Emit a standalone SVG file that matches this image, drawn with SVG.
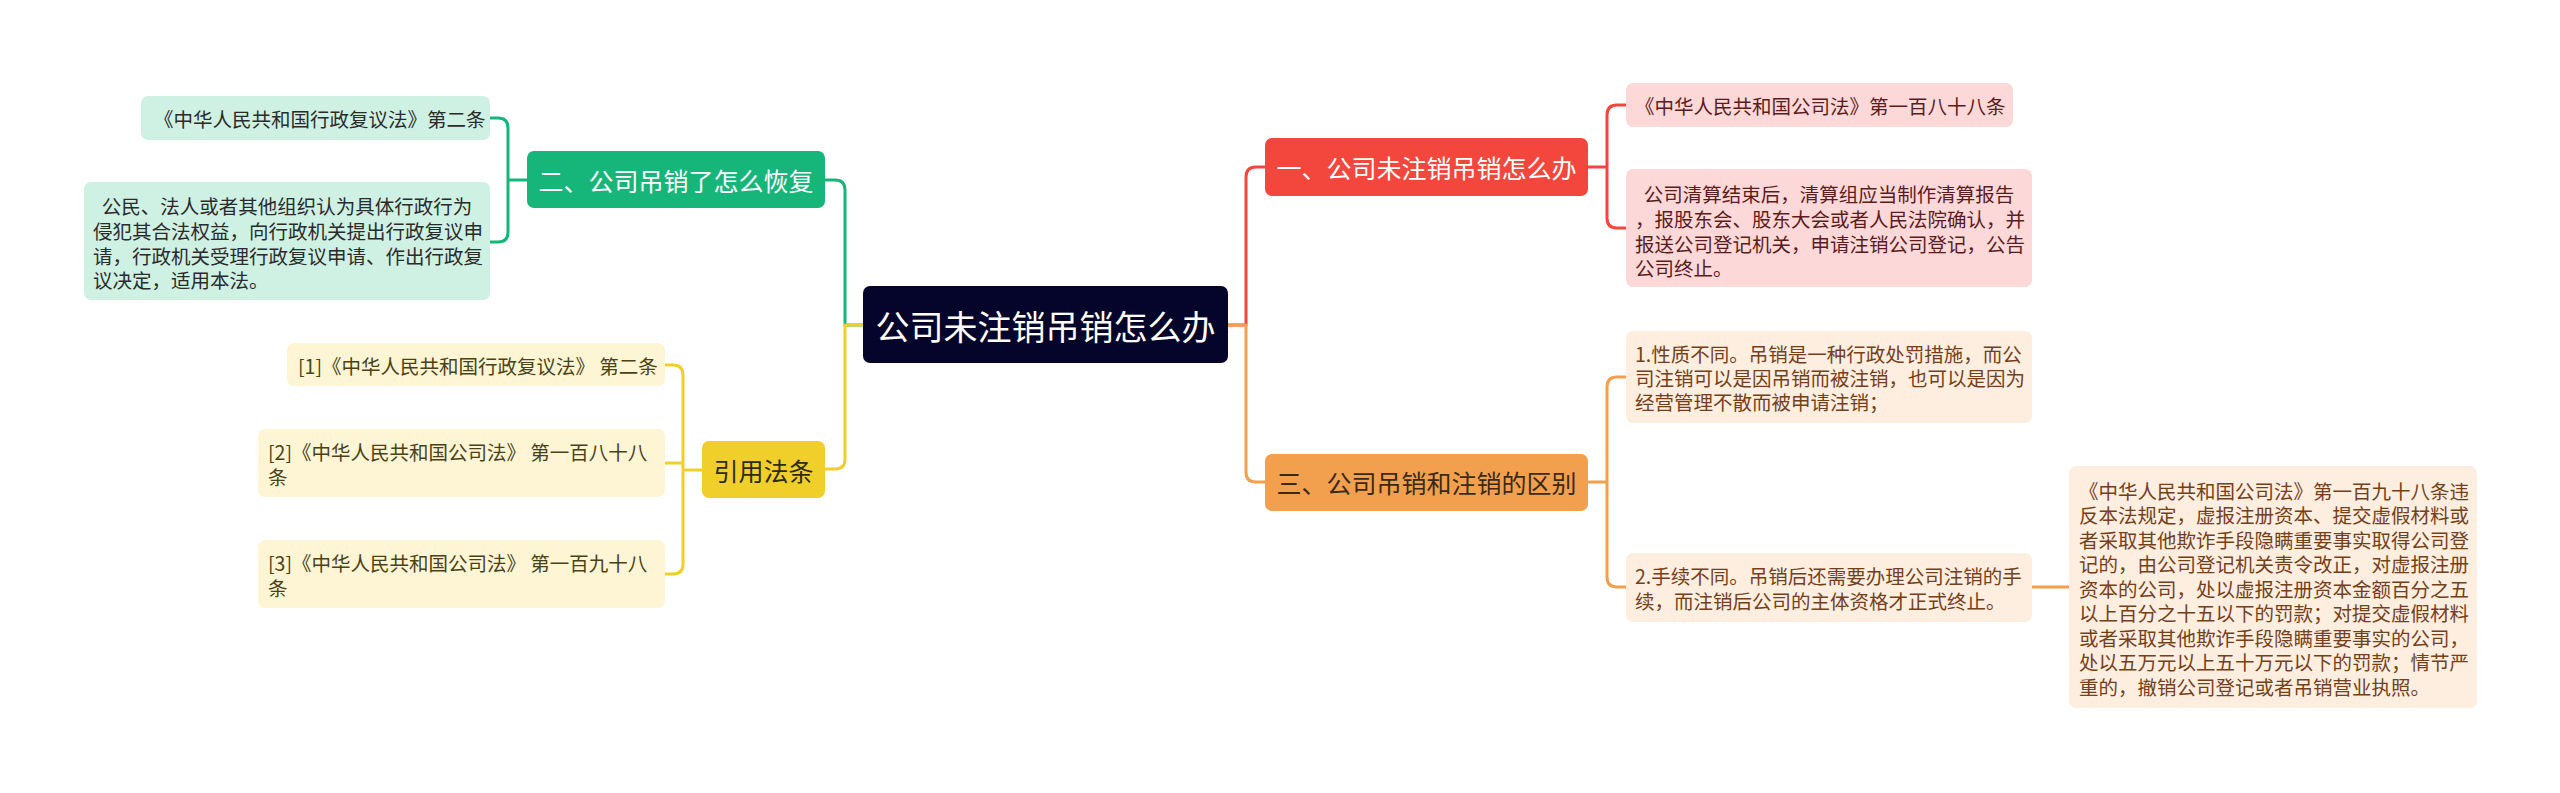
<svg xmlns="http://www.w3.org/2000/svg" width="2560" height="793" viewBox="0 0 2560 793">
<style>
text{font-family:"Noto Sans CJK SC","Noto Sans",sans-serif;dominant-baseline:central}
.leaf{font-size:19.5px}
.main{font-size:25px}
.c{fill:none;stroke-width:3;stroke-linecap:round;stroke-linejoin:round}
.g{stroke:#16b67b}.y{stroke:#f0cf2a}.r{stroke:#f3463d}.o{stroke:#f3a04e}
</style>
<rect width="2560" height="793" fill="#ffffff"/>
<g id="connectors">
<path class="c g" d="M863,325 H845 V190 Q845,180 835,180 H825"/>
<path class="c y" d="M863,325 H845 V459 Q845,469 835,469 H825"/>
<path class="c r" d="M1228,325 H1246 V177 Q1246,167 1256,167 H1265"/>
<path class="c o" d="M1228,325 H1246 V472 Q1246,482 1256,482 H1265"/>
<path class="c g" d="M527,180 H508 M508,180 V128 Q508,118 498,118 H490 M508,180 V232 Q508,242 498,242 H490"/>
<path class="c y" d="M702,470 H683 M683,470 V375 Q683,365 673,365 H665 M683,470 V463 H665 M683,470 V564 Q683,574 673,574 H665"/>
<path class="c r" d="M1588,167 H1607 M1607,167 V115 Q1607,105 1617,105 H1626 M1607,167 V218 Q1607,228 1617,228 H1626"/>
<path class="c o" d="M1588,482 H1607 M1607,482 V387 Q1607,377 1617,377 H1626 M1607,482 V577 Q1607,587 1617,587 H1626 M2032,587 H2069"/>
</g>
<g id="central">
<rect x="863" y="286" width="365" height="77" rx="7" fill="#05052b"/>
<text x="1045.5" y="325" font-size="34" fill="#ffffff" text-anchor="middle">公司未注销吊销怎么办</text>
</g>
<g id="branch-green">
<rect x="527" y="151" width="298" height="57" rx="7" fill="#16b67b"/>
<text class="main" x="676" y="180" fill="#ffffff" text-anchor="middle">二、公司吊销了怎么恢复</text>
</g>
<g id="leaf-green-1">
<rect x="141" y="96" width="349" height="44" rx="7" fill="#cff1e3"/>
<text class="leaf" x="154" y="118" fill="#2b2b2b">《中华人民共和国行政复议法》第二条</text>
</g>
<g id="leaf-green-2">
<rect x="84" y="182" width="406" height="118" rx="7" fill="#cff1e3"/>
<text class="leaf" fill="#2b2b2b" xml:space="preserve"><tspan x="93" y="205">  公民、法人或者其他组织认为具体行政行为</tspan><tspan x="93" y="230">侵犯其合法权益，向行政机关提出行政复议申</tspan><tspan x="93" y="255">请，行政机关受理行政复议申请、作出行政复</tspan><tspan x="93" y="279">议决定，适用本法。</tspan></text>
</g>
<g id="branch-yellow">
<rect x="702" y="441" width="123" height="57" rx="7" fill="#f0cf2a"/>
<text class="main" x="763.5" y="470" fill="#2e2a10" text-anchor="middle">引用法条</text>
</g>
<g id="leaf-yellow-1">
<rect x="287" y="343" width="378" height="43" rx="7" fill="#fdf5d4"/>
<text class="leaf" x="298" y="365" fill="#4a4216">[1]《中华人民共和国行政复议法》 第二条</text>
</g>
<g id="leaf-yellow-2">
<rect x="258" y="429" width="407" height="68" rx="7" fill="#fdf5d4"/>
<text class="leaf" fill="#4a4216"><tspan x="268" y="451">[2]《中华人民共和国公司法》 第一百八十八</tspan><tspan x="268" y="476">条</tspan></text>
</g>
<g id="leaf-yellow-3">
<rect x="258" y="540" width="407" height="68" rx="7" fill="#fdf5d4"/>
<text class="leaf" fill="#4a4216"><tspan x="268" y="562">[3]《中华人民共和国公司法》 第一百九十八</tspan><tspan x="268" y="587">条</tspan></text>
</g>
<g id="branch-red">
<rect x="1265" y="138" width="323" height="58" rx="7" fill="#f3463d"/>
<text class="main" x="1426.5" y="167" fill="#ffffff" text-anchor="middle">一、公司未注销吊销怎么办</text>
</g>
<g id="leaf-red-1">
<rect x="1626" y="83" width="387" height="44" rx="7" fill="#fdd8d8"/>
<text class="leaf" x="1635" y="105" fill="#5a1c1c">《中华人民共和国公司法》第一百八十八条</text>
</g>
<g id="leaf-red-2">
<rect x="1626" y="169" width="406" height="118" rx="7" fill="#fdd8d8"/>
<text class="leaf" fill="#5a1c1c" xml:space="preserve"><tspan x="1635" y="193">  公司清算结束后，清算组应当制作清算报告</tspan><tspan x="1635" y="218">，报股东会、股东大会或者人民法院确认，并</tspan><tspan x="1635" y="243">报送公司登记机关，申请注销公司登记，公告</tspan><tspan x="1635" y="267">公司终止。</tspan></text>
</g>
<g id="branch-orange">
<rect x="1265" y="454" width="323" height="57" rx="7" fill="#f3a04e"/>
<text class="main" x="1426.5" y="482" fill="#3a2a14" text-anchor="middle">三、公司吊销和注销的区别</text>
</g>
<g id="leaf-orange-1">
<rect x="1626" y="331" width="406" height="92" rx="7" fill="#fdeee0"/>
<text class="leaf" fill="#74401a"><tspan x="1635" y="353">1.性质不同。吊销是一种行政处罚措施，而公</tspan><tspan x="1635" y="377">司注销可以是因吊销而被注销，也可以是因为</tspan><tspan x="1635" y="401">经营管理不散而被申请注销；</tspan></text>
</g>
<g id="leaf-orange-2">
<rect x="1626" y="553" width="406" height="69" rx="7" fill="#fdeee0"/>
<text class="leaf" fill="#74401a"><tspan x="1635" y="575">2.手续不同。吊销后还需要办理公司注销的手</tspan><tspan x="1635" y="600">续，而注销后公司的主体资格才正式终止。</tspan></text>
</g>
<g id="leaf-orange-3">
<rect x="2069" y="466" width="408" height="242" rx="7" fill="#fdeee0"/>
<text class="leaf" fill="#74401a"><tspan x="2079" y="490">《中华人民共和国公司法》第一百九十八条违</tspan><tspan x="2079" y="514">反本法规定，虚报注册资本、提交虚假材料或</tspan><tspan x="2079" y="539">者采取其他欺诈手段隐瞒重要事实取得公司登</tspan><tspan x="2079" y="563">记的，由公司登记机关责令改正，对虚报注册</tspan><tspan x="2079" y="588">资本的公司，处以虚报注册资本金额百分之五</tspan><tspan x="2079" y="612">以上百分之十五以下的罚款；对提交虚假材料</tspan><tspan x="2079" y="637">或者采取其他欺诈手段隐瞒重要事实的公司，</tspan><tspan x="2079" y="661">处以五万元以上五十万元以下的罚款；情节严</tspan><tspan x="2079" y="686">重的，撤销公司登记或者吊销营业执照。</tspan></text>
</g>
</svg>
